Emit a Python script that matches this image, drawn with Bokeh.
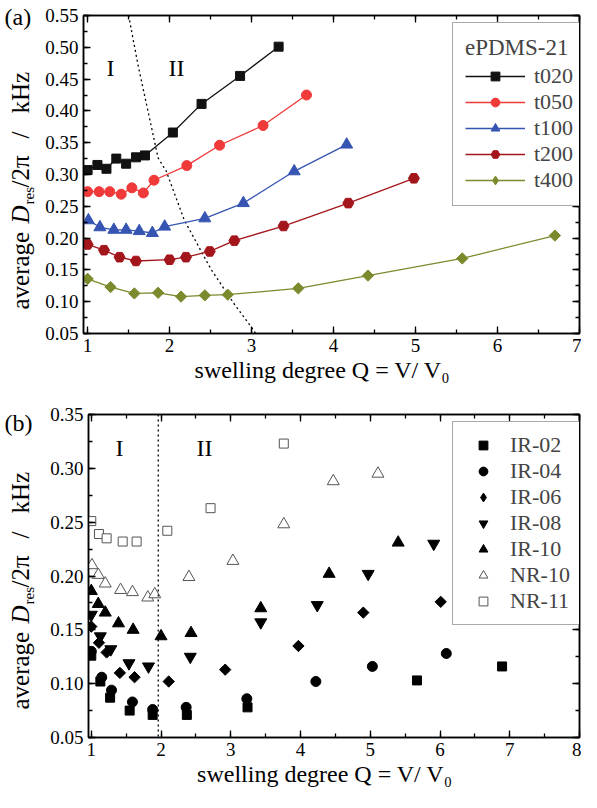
import numpy as np
from bokeh.plotting import figure
from bokeh.models import (Range1d, LinearAxis, SingleIntervalTicker, NumeralTickFormatter,
                          CustomJSTickFormatter, Legend, LegendItem, Label, Span)
from bokeh.layouts import column, row
from bokeh.embed import file_html
from bokeh.resources import INLINE

# ---------------- data: panel (a) ----------------
t020_q = [1.00, 1.12, 1.23, 1.35, 1.47, 1.59, 1.70, 2.04, 2.39, 2.86, 3.33]
t020_d = [0.307, 0.315, 0.309, 0.325, 0.317, 0.327, 0.330, 0.366, 0.411, 0.455, 0.501]
t050_q = [1.00, 1.14, 1.27, 1.41, 1.54, 1.68, 1.81, 2.21, 2.61, 3.14, 3.67]
t050_d = [0.273, 0.273, 0.273, 0.269, 0.279, 0.271, 0.291, 0.314, 0.346, 0.377, 0.425]
t100_q = [1.01, 1.15, 1.32, 1.47, 1.63, 1.79, 1.94, 2.43, 2.90, 3.52, 4.16]
t100_d = [0.228, 0.217, 0.213, 0.213, 0.211, 0.208, 0.218, 0.231, 0.255, 0.305, 0.347]
t200_q = [1.00, 1.20, 1.39, 1.59, 2.00, 2.20, 2.49, 2.79, 3.39, 4.18, 4.98]
t200_d = [0.190, 0.181, 0.170, 0.164, 0.166, 0.170, 0.179, 0.196, 0.219, 0.255, 0.294]
t400_q = [1.00, 1.28, 1.57, 1.86, 2.14, 2.43, 2.71, 3.57, 4.42, 5.57, 6.70]
t400_d = [0.136, 0.123, 0.113, 0.114, 0.108, 0.110, 0.111, 0.121, 0.141, 0.168, 0.204]
boundary_q = [1.50, 1.62, 1.86, 1.96, 2.18, 2.51, 2.78, 3.02, 3.05]
boundary_d = [0.550, 0.469, 0.326, 0.305, 0.228, 0.150, 0.098, 0.056, 0.050]
series_a_names = ["t020", "t050", "t100", "t200", "t400"]

# ---------------- data: panel (b) ----------------
ir02_q = [1.00, 1.13, 1.27, 1.55, 1.88, 2.37, 3.24, 5.67, 6.89]
ir02_d = [0.126, 0.102, 0.087, 0.075, 0.071, 0.071, 0.078, 0.103, 0.116]
ir04_q = [1.00, 1.15, 1.29, 1.59, 1.88, 2.36, 3.23, 4.22, 5.03, 6.09]
ir04_d = [0.130, 0.106, 0.094, 0.083, 0.076, 0.078, 0.086, 0.102, 0.116, 0.128]
ir06_q = [1.00, 1.11, 1.22, 1.41, 1.62, 2.11, 2.92, 3.97, 4.90, 6.01]
ir06_d = [0.153, 0.138, 0.129, 0.110, 0.106, 0.102, 0.113, 0.135, 0.166, 0.176]
ir08_q = [1.00, 1.13, 1.28, 1.54, 1.82, 2.42, 3.43, 4.24, 4.97, 5.91]
ir08_d = [0.164, 0.144, 0.132, 0.119, 0.116, 0.125, 0.157, 0.173, 0.202, 0.230]
ir10_q = [1.00, 1.10, 1.20, 1.39, 1.60, 2.00, 2.43, 3.43, 4.41, 5.40]
ir10_d = [0.186, 0.174, 0.166, 0.156, 0.150, 0.144, 0.147, 0.170, 0.202, 0.231]
nr10_q = [1.01, 1.10, 1.20, 1.42, 1.59, 1.81, 1.91, 2.40, 3.03, 3.76, 4.47, 5.11]
nr10_d = [0.210, 0.201, 0.193, 0.187, 0.185, 0.180, 0.183, 0.199, 0.214, 0.248, 0.288, 0.295]
nr11_q = [1.00, 1.11, 1.22, 1.45, 1.65, 2.09, 2.71, 3.76]
nr11_d = [0.251, 0.239, 0.235, 0.232, 0.232, 0.242, 0.263, 0.323]
boundary_b = 1.96
series_b_names = ["IR-02", "IR-04", "IR-06", "IR-08", "IR-10", "NR-10", "NR-11"]

X_TITLE = "swelling degree  Q  =  V/ V₀"

FONT = "Liberation Serif"
LEFT_W = 40          # strip holding the rotated y titles
MAIN_W = 541         # main figures
X0 = 8 + LEFT_W      # page x of main figures

# geometry in page pixels: figure top/height, frame edges
GA = dict(top=8, h=388, L=91, R=587, T=23, B=341, x0=0.95, x1=7.0, y0=0.05, y1=0.55)
GB = dict(top=396, h=404, L=96, R=587, T=422, B=745, x0=0.96, x1=8.0, y0=0.05, y1=0.35 + 1e-9)


def conv(g, px, py):
    x = g["x0"] + (px - g["L"]) / (g["R"] - g["L"]) * (g["x1"] - g["x0"])
    y = g["y1"] - (py - g["T"]) / (g["B"] - g["T"]) * (g["y1"] - g["y0"])
    return x, y


def make_fig(g):
    p = figure(width=MAIN_W, height=g["h"], output_backend="svg", toolbar_location=None,
               x_range=Range1d(g["x0"], g["x1"]), y_range=Range1d(g["y0"], g["y1"]),
               min_border_left=g["L"] - X0, min_border_right=X0 + MAIN_W - g["R"],
               min_border_top=g["T"] - g["top"], min_border_bottom=g["top"] + g["h"] - g["B"])
    p.grid.visible = False
    p.outline_line_color = "black"
    p.outline_line_width = 1.5
    xt = SingleIntervalTicker(interval=1, num_minor_ticks=2)
    yt = SingleIntervalTicker(interval=0.05, num_minor_ticks=2)
    p.xaxis.ticker = xt
    p.yaxis.ticker = yt
    p.xaxis.formatter = NumeralTickFormatter(format="0")
    p.yaxis.formatter = NumeralTickFormatter(format="0.00")
    p.xaxis.axis_label = X_TITLE
    p.xaxis.axis_label_text_font = FONT
    p.xaxis.axis_label_text_font_size = "24px"
    p.xaxis.axis_label_text_font_style = "normal"
    p.xaxis.axis_label_text_color = "black"
    p.xaxis.axis_label_standoff = 2
    p.add_layout(LinearAxis(ticker=xt, formatter=CustomJSTickFormatter(code="return ''")), "above")
    p.add_layout(LinearAxis(ticker=yt, formatter=CustomJSTickFormatter(code="return ''")), "right")
    for ax in p.axis:
        ax.axis_line_width = 1.5
        ax.axis_line_color = "black"
        ax.major_tick_in = 7
        ax.major_tick_out = 0
        ax.minor_tick_in = 4
        ax.minor_tick_out = 0
        ax.major_tick_line_width = 1.3
        ax.minor_tick_line_width = 1.3
        ax.major_label_text_font = FONT
        ax.major_label_text_font_size = "19px"
        ax.major_label_text_color = "black"
        ax.major_label_standoff = 5
    p.xaxis[0].major_label_standoff = 3
    for ax in p.above + p.right:
        ax.major_label_text_font_size = "1px"
        ax.major_label_standoff = 0
    return p


def ylabel_strip(g, dy, tag, tag_y):
    # text-only figure whose data space is page pixels
    top, h = g["top"], g["h"]
    f = figure(width=LEFT_W, height=h, x_range=Range1d(8, 8 + LEFT_W), y_range=Range1d(top + h, top),
               title=None, min_border_left=0, min_border_right=0, min_border_top=0,
               min_border_bottom=0, output_backend="svg", toolbar_location=None,
               x_axis_location=None, y_axis_location=None)
    f.grid.visible = False
    f.outline_line_color = None
    a = np.pi / 2
    cx = 28
    pieces = [
        (12, tag_y, tag, 24, "normal", 0.0),
        (cx, 317 + dy, "average", 25, "normal", a),
        (cx, 231 + dy, "D", 25, "italic", a),
        (cx + 8, 212 + dy, "res", 15, "normal", a),
        (cx, 195 + dy, "/2π", 25, "normal", a),
        (cx, 146 + dy, "/", 25, "normal", a),
        (cx, 121 + dy, "kHz", 25, "normal", a),
    ]
    for x, y, t, s, st, ang in pieces:
        f.add_layout(Label(x=x, y=y, text=t, text_font=FONT, text_font_size=f"{s}px",
                           text_font_style=st, angle=ang, text_align="left",
                           text_baseline="middle", text_color="black"))
    return f


def region_label(p, g, px, py, text):
    x, y = conv(g, px, py)
    p.add_layout(Label(x=x, y=y, text=text, text_font=FONT, text_font_size="24px",
                       text_align="center", text_baseline="middle", text_color="black"))


# ---------------- panel (a) ----------------
pa = make_fig(GA)
pa.line(boundary_q, boundary_d, line_color="black", line_dash="2 3", line_width=1.3)

styles_a = [
    (t020_q, t020_d, "#111111", "square", 9, 0.0),
    (t050_q, t050_d, "#f03a3a", "circle", 10, 0.0),
    (t100_q, t100_d, "#3655b3", "triangle", 12, 0.0),
    (t200_q, t200_d, "#a3161c", "hex", 11, 0.0),
    (t400_q, t400_d, "#7b8a2c", "square", 8, np.pi / 4),
]
items_a = []
for name, (q, d, col, mk, sz, ang) in zip(series_a_names, styles_a):
    r1 = pa.line(q, d, line_color=col, line_width=1.3)
    r2 = pa.scatter(q, d, marker=mk, size=sz, angle=ang, fill_color=col, line_color=col)
    if ang != 0.0:
        # legend glyph (legends ignore marker rotation); hidden under the first marker
        r2 = pa.scatter(q[:1], d[:1], marker="diamond", size=11, fill_color=col, line_color=col)
    items_a.append(LegendItem(label=name, renderers=[r1, r2]))

leg_a = Legend(items=items_a, location=(369, 127), title="ePDMS-21",
               title_text_font=FONT, title_text_font_size="23px", title_text_font_style="normal",
               title_standoff=2, label_text_font=FONT, label_text_font_size="22px",
               glyph_width=60, glyph_height=22, label_height=22, spacing=0, padding=12,
               label_standoff=9, border_line_color="#555555", border_line_width=1,
               background_fill_color="white", background_fill_alpha=1.0)
pa.add_layout(leg_a)
region_label(pa, GA, 118, 75, "I")
region_label(pa, GA, 184, 75, "II")

# ---------------- panel (b) ----------------
pb = make_fig(GB)
pb.add_layout(Span(location=boundary_b, dimension="height", line_color="black",
                   line_dash="2 3", line_width=1.3))

styles_b = [
    (ir02_q, ir02_d, "square", 9, 0.0, "black", "black"),
    (ir04_q, ir04_d, "circle", 10, 0.0, "black", "black"),
    (ir06_q, ir06_d, "square", 8, np.pi / 4, "black", "black"),
    (ir08_q, ir08_d, "inverted_triangle", 12, 0.0, "black", "black"),
    (ir10_q, ir10_d, "triangle", 12, 0.0, "black", "black"),
    (nr10_q, nr10_d, "triangle", 12, 0.0, "white", "#555555"),
    (nr11_q, nr11_d, "square", 9, 0.0, "white", "#555555"),
]
items_b = []
for name, (q, d, mk, sz, ang, fc, lc) in zip(series_b_names, styles_b):
    r = pb.scatter(q, d, marker=mk, size=sz, angle=ang, fill_color=fc, line_color=lc, line_width=1)
    if ang != 0.0:
        r = pb.scatter(q[:1], d[:1], marker="diamond", size=11, fill_color=fc, line_color=lc)
    items_b.append(LegendItem(label=name, renderers=[r]))

leg_b = Legend(items=items_b, location=(364, 112),
               label_text_font=FONT, label_text_font_size="22px",
               glyph_width=40, glyph_height=22, label_height=22, spacing=0, padding=10,
               label_standoff=7, border_line_color="#555555", border_line_width=1,
               background_fill_color="white", background_fill_alpha=1.0)
pb.add_layout(leg_b)
region_label(pb, GB, 127, 455, "I")
region_label(pb, GB, 212, 455, "II")

# ---------------- assemble ----------------
ya = ylabel_strip(GA, 0, "(a)", 24)
yb = ylabel_strip(GB, 400, "(b)", 430)

layout = column(row(ya, column(pa)), row(yb, column(pb)))
open("out.html", "w").write(file_html(layout, INLINE))
